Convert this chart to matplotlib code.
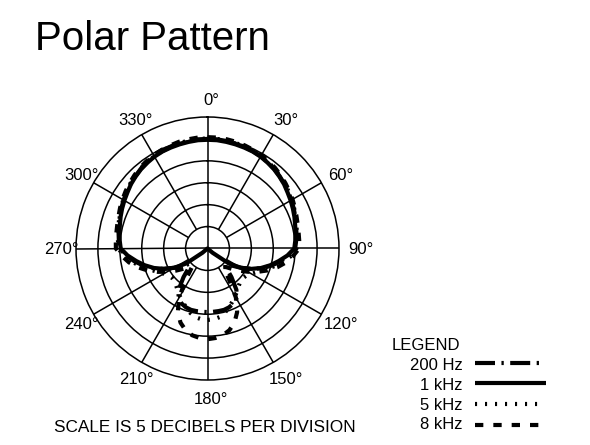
import matplotlib
matplotlib.use("Agg")
import matplotlib.pyplot as plt
import numpy as np
from matplotlib.lines import Line2D
import matplotlib.transforms as mtransforms

plt.rcParams['font.family'] = ['Liberation Sans', 'DejaVu Sans']

# ---------------- data (radius in chart units: 0 = centre, 30 = outer ring, 5 dB per ring)
ANGLES_DEG = list(range(0, 361, 5))

R_200HZ = [25.0, 25.0, 24.9, 24.8, 24.7, 24.5, 24.3, 24.0, 23.7, 23.3, 22.9, 22.5, 22.1, 21.7, 21.3, 20.9, 20.6, 20.3, 20.0,
           18.6, 16.9, 15.1, 13.2, 11.0, 8.8, 6.8, 5.5, 5.8, 8.5, 11.5, 13.2, 13.9, 14.3, 14.5, 14.5, 14.5, 14.5,
           14.5, 14.5, 14.5, 14.3, 13.9, 13.2, 11.5, 8.5, 5.8, 5.5, 6.8, 8.8, 11.0, 13.2, 15.1, 16.9, 18.6, 20.0,
           20.3, 20.6, 20.9, 21.3, 21.7, 22.1, 22.5, 22.9, 23.3, 23.7, 24.0, 24.3, 24.5, 24.7, 24.8, 24.9, 25.0, 25.0]

R_1KHZ = [24.8, 24.8, 24.7, 24.6, 24.5, 24.4, 24.2, 23.9, 23.6, 23.2, 22.8, 22.3, 21.9, 21.5, 21.1, 20.7, 20.4, 20.1, 19.8,
          18.3, 16.5, 14.8, 13.0, 11.0, 8.8, 6.0, 1.5, 0, 0, 0, 0, 0, 0, 0, 0, 0, 0,
          0, 0, 0, 0, 0, 0, 0, 0, 0, 1.5, 6.0, 8.8, 11.0, 13.0, 14.8, 16.5, 18.3, 19.8,
          20.1, 20.4, 20.7, 21.1, 21.5, 21.9, 22.3, 22.8, 23.2, 23.6, 23.9, 24.2, 24.4, 24.5, 24.6, 24.7, 24.8, 24.8]

R_5KHZ = [25.1, 25.1, 25.0, 24.9, 24.8, 24.6, 24.4, 24.1, 23.8, 23.4, 23.0, 22.6, 22.2, 21.8, 21.4, 21.0, 20.7, 20.5, 20.3,
          19.2, 17.5, 15.7, 14.0, 12.6, 11.5, 10.8, 10.5, 10.6, 11.1, 11.8, 12.6, 13.4, 14.3, 15.2, 15.9, 16.2, 16.3,
          16.2, 15.9, 15.2, 14.3, 13.4, 12.6, 11.8, 11.1, 10.6, 10.5, 10.8, 11.5, 12.6, 14.0, 15.7, 17.5, 19.2, 20.3,
          20.5, 20.7, 21.0, 21.4, 21.8, 22.2, 22.6, 23.0, 23.4, 23.8, 24.1, 24.4, 24.6, 24.8, 24.9, 25.0, 25.1, 25.1]

R_8KHZ = [25.4, 25.4, 25.3, 25.2, 25.0, 24.8, 24.6, 24.3, 24.0, 23.6, 23.2, 22.8, 22.4, 22.0, 21.6, 21.3, 21.1, 21.0, 20.9,
          19.6, 18.2, 16.5, 14.6, 12.6, 10.6, 8.8, 7.2, 6.0, 5.5, 8.5, 13.0, 16.0, 18.0, 19.3, 20.1, 20.5, 20.7,
          20.5, 20.1, 19.3, 18.0, 16.0, 13.0, 8.5, 5.5, 6.0, 7.2, 8.8, 10.6, 12.6, 14.6, 16.5, 18.2, 19.6, 20.9,
          21.0, 21.1, 21.3, 21.6, 22.0, 22.4, 22.8, 23.2, 23.6, 24.0, 24.3, 24.6, 24.8, 25.0, 25.2, 25.3, 25.4, 25.4]

SERIES_NAMES = ["200 Hz", "1 kHz", "5 kHz", "8 kHz"]
ANGLE_LABELS = [0, 30, 60, 90, 120, 150, 180, 210, 240, 270, 300, 330]
RING_VALUES = [5, 10, 15, 20, 25]

# ---------------- styles
LW = 3.0
STYLES = {
    "200 Hz": (0, (4.8, 1.55, 0.55, 1.55)),
    "1 kHz": "-",
    "5 kHz": (0, (0.5, 1.9)),
    "8 kHz": (0, (2.0, 2.4)),
}
DATA = {"200 Hz": R_200HZ, "1 kHz": R_1KHZ, "5 kHz": R_5KHZ, "8 kHz": R_8KHZ}

W, H = 590, 445
fig = plt.figure(figsize=(W / 100, H / 100), dpi=100)
cx, cy, R = 207.5, 248.5, 131.5
ax = fig.add_axes([(cx - R) / W, (H - cy - R) / H, 2 * R / W, 2 * R / H], projection='polar')
ax.set_theta_zero_location('N')
ax.set_theta_direction(-1)
ax.set_ylim(0, 30)
ax.set_xticks([])
ax.set_yticks(RING_VALUES)
ax.set_yticklabels([])
ax.grid(axis='y', color='black', linewidth=1.1, linestyle='-')
ax.spines['polar'].set_linewidth(1.1)
ax.spines['polar'].set_color('black')

# spokes
for d in ANGLE_LABELS:
    t = np.deg2rad(d)
    r0 = 0 if d % 90 == 0 else 5
    ax.plot([t, t], [r0, 30], color='black', lw=1.1, zorder=2, solid_capstyle='butt')

theta = np.deg2rad(ANGLES_DEG)
for name in SERIES_NAMES:
    ax.plot(theta, DATA[name], color='black', lw=LW, linestyle=STYLES[name],
            dash_capstyle='butt', solid_capstyle='butt', solid_joinstyle='round', zorder=4)

# angle labels (digits centred on the spoke direction)
lab_trans = mtransforms.offset_copy(ax.transData, fig=fig, x=2.4, y=-4.3, units='points')
for d in ANGLE_LABELS:
    ax.text(np.deg2rad(d), 34.2, f"{d}°", transform=lab_trans, ha='center', va='baseline',
            fontsize=12, clip_on=False)

# title and footer
fig.text(35 / W, 1 - 50 / H, "Polar Pattern", fontsize=29, ha='left', va='baseline')
fig.text(53.5 / W, 1 - 431.7 / H, "SCALE IS 5 DECIBELS PER DIVISION", fontsize=12.4,
         ha='left', va='baseline')

# legend
fig.text(391.5 / W, 1 - 350 / H, "LEGEND", fontsize=12, ha='left', va='baseline')
leg_base = [370, 390, 410, 429.3]
leg_line = [363.3, 383.3, 404, 425]
leg_end = [540, 545.5, 545, 541]
for name, yb, yl, xe in zip(SERIES_NAMES, leg_base, leg_line, leg_end):
    fig.text(463 / W, 1 - yb / H, name, fontsize=12, ha='right', va='baseline')
    fig.add_artist(Line2D([475 / W, xe / W], [1 - yl / H, 1 - yl / H], transform=fig.transFigure,
                          color='black', lw=LW, linestyle=STYLES[name],
                          dash_capstyle='butt', solid_capstyle='butt'))

fig.savefig("out.png", dpi=100)
